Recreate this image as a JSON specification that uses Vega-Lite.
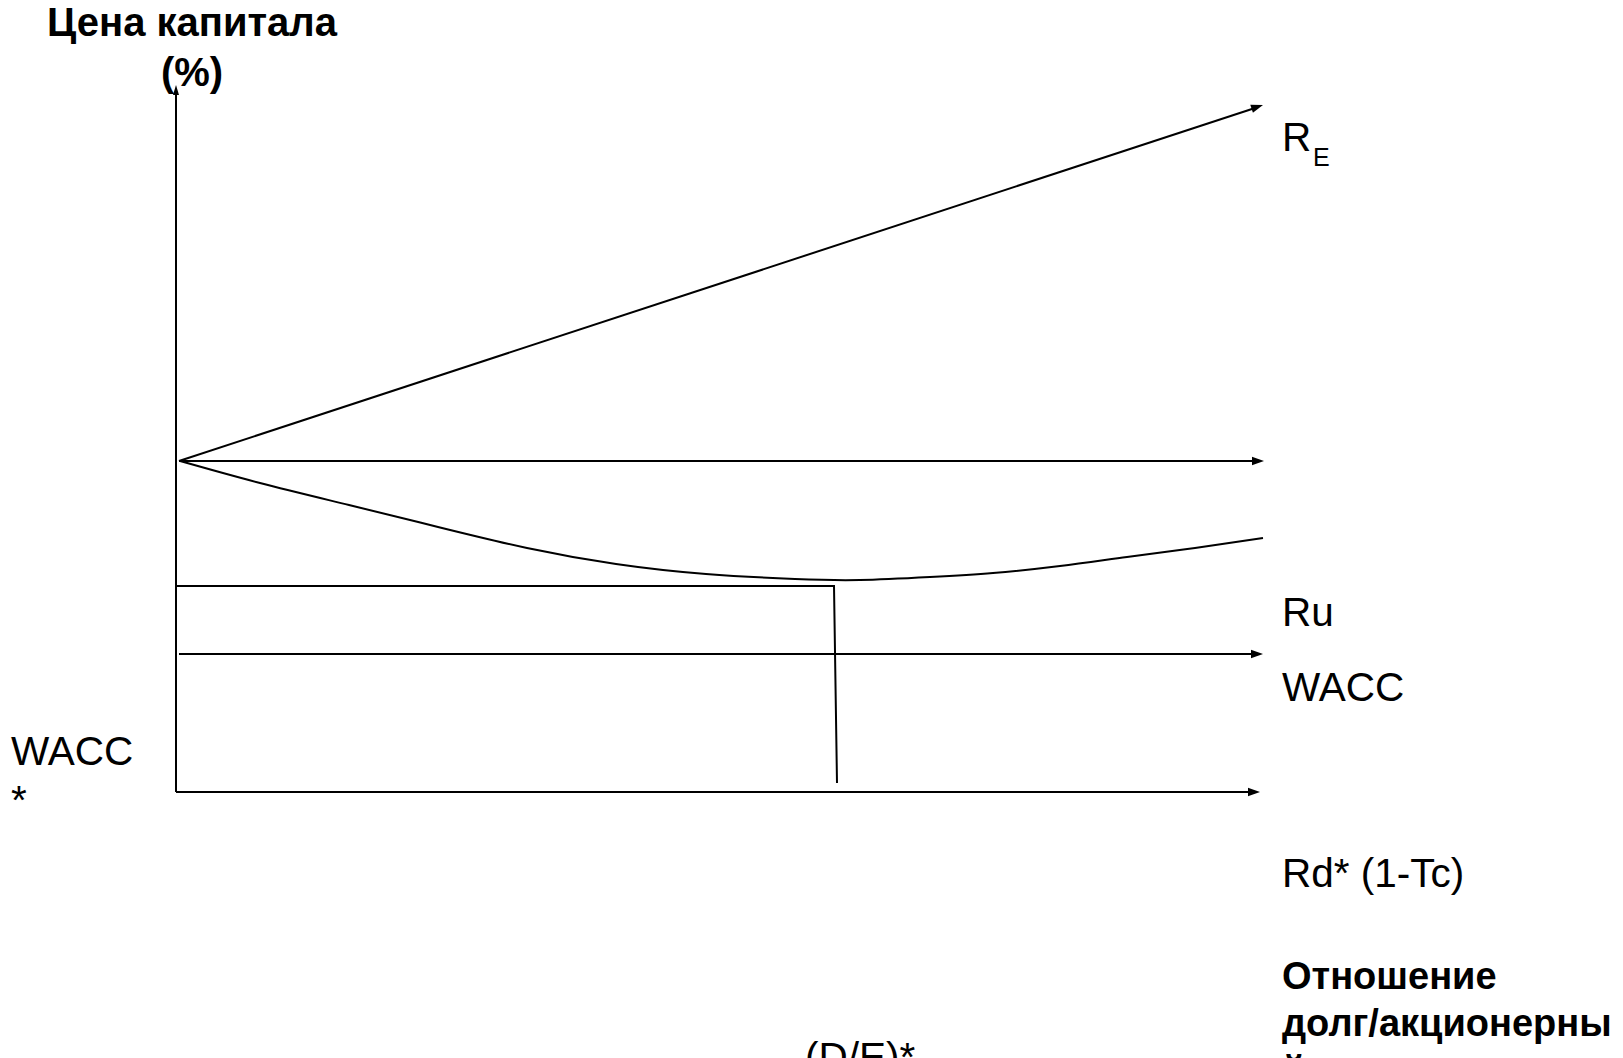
{
  "$schema": "https://vega.github.io/schema/vega-lite/v6.json",
  "width": 1623,
  "height": 1058,
  "autosize": {"type": "none"},
  "padding": 0,
  "background": "white",
  "config": {"view": {"stroke": null}},
  "datasets": {
    "lines": [
      {"series": "yaxis", "order": 1, "x": 176, "y": 266},
      {"series": "yaxis", "order": 2, "x": 176, "y": 966},
      {"series": "xaxis", "order": 1, "x": 176, "y": 266},
      {"series": "xaxis", "order": 2, "x": 1252, "y": 266},
      {"series": "RE", "order": 1, "x": 179, "y": 597},
      {"series": "RE", "order": 2, "x": 1255, "y": 950},
      {"series": "Ru", "order": 1, "x": 179, "y": 597},
      {"series": "Ru", "order": 2, "x": 1256, "y": 597},
      {"series": "Rd", "order": 1, "x": 179, "y": 404},
      {"series": "Rd", "order": 2, "x": 1255, "y": 404},
      {"series": "DE", "order": 1, "x": 176, "y": 472},
      {"series": "DE", "order": 2, "x": 834, "y": 472},
      {"series": "DE", "order": 3, "x": 837, "y": 275},
      {"series": "WACC", "order": 1, "x": 180, "y": 597},
      {"series": "WACC", "order": 2, "x": 260, "y": 575},
      {"series": "WACC", "order": 3, "x": 349, "y": 553},
      {"series": "WACC", "order": 4, "x": 438, "y": 531},
      {"series": "WACC", "order": 5, "x": 527, "y": 510},
      {"series": "WACC", "order": 6, "x": 616, "y": 494},
      {"series": "WACC", "order": 7, "x": 706, "y": 484},
      {"series": "WACC", "order": 8, "x": 795, "y": 479},
      {"series": "WACC", "order": 9, "x": 860, "y": 478},
      {"series": "WACC", "order": 10, "x": 930, "y": 481},
      {"series": "WACC", "order": 11, "x": 993, "y": 485},
      {"series": "WACC", "order": 12, "x": 1060, "y": 492},
      {"series": "WACC", "order": 13, "x": 1127, "y": 501},
      {"series": "WACC", "order": 14, "x": 1195, "y": 510},
      {"series": "WACC", "order": 15, "x": 1263, "y": 520}
    ],
    "arrowsRight": [
      {"series": "xaxis", "x": 1260, "y": 266},
      {"series": "Ru", "x": 1264, "y": 597},
      {"series": "Rd", "x": 1263, "y": 404}
    ],
    "arrowsUp": [
      {"series": "yaxis", "x": 176, "y": 973}
    ],
    "arrowsRE": [
      {"series": "RE", "x": 1263, "y": 953}
    ],
    "labels": [
      {"label": "R", "x": 1282, "y": 907},
      {"label": "Ru", "x": 1282, "y": 432},
      {"label": "WACC", "x": 1282, "y": 357},
      {"label": "Rd* (1-Tc)", "x": 1282, "y": 171},
      {"label": "WACC\n*", "x": 11, "y": 293},
      {"label": "(D/E)*", "x": 805, "y": -13}
    ],
    "subs": [
      {"label": "E", "x": 1313, "y": 892}
    ],
    "titleY": [
      {"label": "Цена капитала\n(%)", "x": 192, "y": 1022}
    ],
    "titleX": [
      {"label": "Отношение\nдолг/акционерны\nй капитал", "x": 1282, "y": 69}
    ]
  },
  "layer": [
    {
      "data": {"name": "lines"},
      "transform": [{"filter": "datum.series !== 'WACC'"}],
      "mark": {"type": "line", "color": "#000000", "strokeWidth": 2, "strokeCap": "butt", "strokeJoin": "miter"},
      "encoding": {
        "x": {"field": "x", "type": "quantitative", "scale": {"domain": [0, 1623], "nice": false, "zero": false}, "axis": null},
        "y": {"field": "y", "type": "quantitative", "scale": {"domain": [0, 1058], "nice": false, "zero": false}, "axis": null},
        "detail": {"field": "series", "type": "nominal"},
        "order": {"field": "order", "type": "quantitative"}
      }
    },
    {
      "data": {"name": "lines"},
      "transform": [{"filter": "datum.series === 'WACC'"}],
      "mark": {"type": "line", "color": "#000000", "strokeWidth": 2, "interpolate": "natural"},
      "encoding": {
        "x": {"field": "x", "type": "quantitative", "scale": {"domain": [0, 1623], "nice": false, "zero": false}, "axis": null},
        "y": {"field": "y", "type": "quantitative", "scale": {"domain": [0, 1058], "nice": false, "zero": false}, "axis": null},
        "order": {"field": "order", "type": "quantitative"}
      }
    },
    {
      "data": {"name": "arrowsRight"},
      "mark": {"type": "point", "shape": "M0,0L-2,-0.7L-2,0.7Z", "filled": true, "color": "#000000", "opacity": 1, "size": 144, "strokeWidth": 0},
      "encoding": {
        "x": {"field": "x", "type": "quantitative", "scale": {"domain": [0, 1623], "nice": false, "zero": false}, "axis": null},
        "y": {"field": "y", "type": "quantitative", "scale": {"domain": [0, 1058], "nice": false, "zero": false}, "axis": null}
      }
    },
    {
      "data": {"name": "arrowsUp"},
      "mark": {"type": "point", "shape": "M0,0L-2,-0.6L-2,0.6Z", "angle": 270, "filled": true, "color": "#000000", "opacity": 1, "size": 100, "strokeWidth": 0},
      "encoding": {
        "x": {"field": "x", "type": "quantitative", "scale": {"domain": [0, 1623], "nice": false, "zero": false}, "axis": null},
        "y": {"field": "y", "type": "quantitative", "scale": {"domain": [0, 1058], "nice": false, "zero": false}, "axis": null}
      }
    },
    {
      "data": {"name": "arrowsRE"},
      "mark": {"type": "point", "shape": "M0,0L-2,-0.7L-2,0.7Z", "angle": 341.8, "filled": true, "color": "#000000", "opacity": 1, "size": 144, "strokeWidth": 0},
      "encoding": {
        "x": {"field": "x", "type": "quantitative", "scale": {"domain": [0, 1623], "nice": false, "zero": false}, "axis": null},
        "y": {"field": "y", "type": "quantitative", "scale": {"domain": [0, 1058], "nice": false, "zero": false}, "axis": null}
      }
    },
    {
      "data": {"name": "labels"},
      "mark": {"type": "text", "font": "Liberation Sans", "fontSize": 40.5, "align": "left", "baseline": "alphabetic", "color": "#000000", "lineBreak": "\n", "lineHeight": 49},
      "encoding": {
        "x": {"field": "x", "type": "quantitative", "scale": {"domain": [0, 1623], "nice": false, "zero": false}, "axis": null},
        "y": {"field": "y", "type": "quantitative", "scale": {"domain": [0, 1058], "nice": false, "zero": false}, "axis": null},
        "text": {"field": "label", "type": "nominal"}
      }
    },
    {
      "data": {"name": "subs"},
      "mark": {"type": "text", "font": "Liberation Sans", "fontSize": 25, "align": "left", "baseline": "alphabetic", "color": "#000000"},
      "encoding": {
        "x": {"field": "x", "type": "quantitative", "scale": {"domain": [0, 1623], "nice": false, "zero": false}, "axis": null},
        "y": {"field": "y", "type": "quantitative", "scale": {"domain": [0, 1058], "nice": false, "zero": false}, "axis": null},
        "text": {"field": "label", "type": "nominal"}
      }
    },
    {
      "data": {"name": "titleY"},
      "mark": {"type": "text", "font": "Liberation Sans", "fontSize": 40, "fontWeight": "bold", "align": "center", "baseline": "alphabetic", "color": "#000000", "lineBreak": "\n", "lineHeight": 50},
      "encoding": {
        "x": {"field": "x", "type": "quantitative", "scale": {"domain": [0, 1623], "nice": false, "zero": false}, "axis": null},
        "y": {"field": "y", "type": "quantitative", "scale": {"domain": [0, 1058], "nice": false, "zero": false}, "axis": null},
        "text": {"field": "label", "type": "nominal"}
      }
    },
    {
      "data": {"name": "titleX"},
      "mark": {"type": "text", "font": "Liberation Sans", "fontSize": 38, "fontWeight": "bold", "align": "left", "baseline": "alphabetic", "color": "#000000", "lineBreak": "\n", "lineHeight": 47},
      "encoding": {
        "x": {"field": "x", "type": "quantitative", "scale": {"domain": [0, 1623], "nice": false, "zero": false}, "axis": null},
        "y": {"field": "y", "type": "quantitative", "scale": {"domain": [0, 1058], "nice": false, "zero": false}, "axis": null},
        "text": {"field": "label", "type": "nominal"}
      }
    }
  ]
}
